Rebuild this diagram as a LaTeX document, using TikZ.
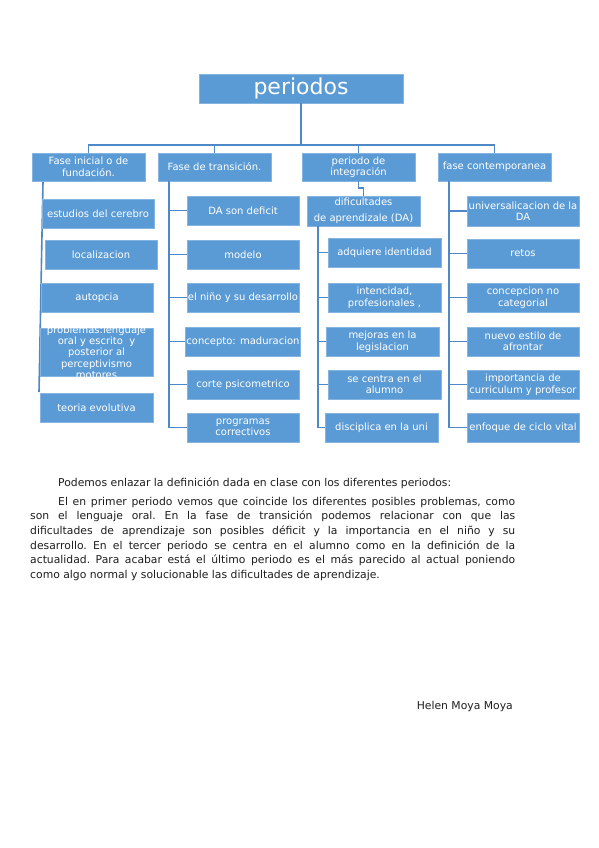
\documentclass[tikz,border=0pt]{standalone}
\usepackage{fontspec}
\setmainfont{DejaVu Sans}
\definecolor{boxblue}{RGB}{91,155,213}
\definecolor{lineblue}{RGB}{78,136,198}
\definecolor{inktext}{RGB}{30,30,30}
\tikzset{
  box/.style={fill=boxblue, draw=boxblue!75!white, line width=0.5pt, text=white,
    align=center, inner sep=1pt, minimum height=29pt, minimum width=112pt,
    font=\fontsize{10}{11.5}\selectfont},
  boxtext/.style={text=white, align=center, inner sep=0pt,
    font=\fontsize{10}{11.3}\selectfont},
  link/.style={draw=lineblue, line width=1.6pt},
  para/.style={text=inktext, text width=485pt, inner sep=0pt, align=justify,
    font=\fontsize{10.8}{14.7}\selectfont},
}
\begin{document}
\begin{tikzpicture}[x=1pt,y=-1pt]
      \useasboundingbox[fill=white] (0,0) rectangle (599,848);
      % column 1 spine sits behind its boxes
      \coordinate (s1a) at (43,182);
      \coordinate (s1b) at (39,392);
      \draw[link] (s1a) -- (s1b);
      \draw
        (301,88.5) node[box, minimum width=204pt, font=\fontsize{22}{24}\selectfont] (top){periodos}
        (88.5,167) node[box, minimum width=113pt, minimum height=28pt] (f1){Fase inicial o de\\fundación.}
        (214.5,167) node[box, minimum width=113pt, minimum height=28pt] (f2){Fase de transición.}
        (358.5,167) node[box, minimum width=113pt, minimum height=28pt] (f3){periodo de\\integración}
        (494.5,167) node[box, minimum width=113pt, minimum height=28pt] (f4){fase contemporanea};
      \draw
        (98,213.5) node[box] (c11){estudios del cerebro}
        (101,254.5) node[box] (c12){localizacion}
        (97,297.5) node[box] (c13){autopcia}
        (96.5,352) node[box, minimum width=113pt, minimum height=48pt] (c14){}
        (96.5,407.5) node[box, minimum width=113pt] (c15){teoria evolutiva};
      \begin{scope}
        \clip (c14.south west) rectangle (c14.north east);
        \node[boxtext] (t14) at (c14) {problemas:lenguaje\\oral y escrito \ y\\posterior al\\perceptivismo\\motores};
      \end{scope}
      \draw
        (243,210.5) node[box] (c21){DA son deficit}
        (243,254.5) node[box] (c22){modelo}
        (243,297.5) node[box] (c23){el niño y su desarrollo}
        (243,341.5) node[box] (c24){concepto: maduracion}
        (243,384.5) node[box] (c25){corte psicometrico}
        (243,427.5) node[box] (c26){programas\\correctivos};
      \draw
        (363.5,211) node[box, minimum width=113pt, minimum height=30pt, font=\fontsize{10}{16}\selectfont] (d3){dificultades\\de aprendizale (DA)}
        (384.5,252.5) node[box, minimum width=113pt] (c31){adquiere identidad}
        (384.5,297.5) node[box, minimum width=113pt] (c32){intencidad,\\profesionales ,}
        (382.5,341.5) node[box, minimum width=113pt] (c33){mejoras en la\\legislacion}
        (384.5,384.5) node[box, minimum width=113pt] (c34){se centra en el\\alumno}
        (381.5,427.5) node[box, minimum width=113pt] (c35){disciplica en la uni};
      \draw
        (523,211) node[box, minimum height=30pt] (c41){universalicacion de la\\DA}
        (523,253.5) node[box] (c42){retos}
        (523,297.5) node[box] (c43){concepcion no\\categorial}
        (523,341.5) node[box] (c44){nuevo estilo de\\afrontar}
        (523,384.5) node[box] (c45){importancia de\\curriculum y profesor}
        (523,427.5) node[box] (c46){enfoque de ciclo vital};
      \begin{scope}[link]
        \draw (top.south) -- ++(0,42) coordinate (bus);
        \foreach \f in {f1,f2,f3,f4}
          \draw (\f.north) |- (bus);
        \draw (f3.south) -- ++(0,7) -| (d3.north);
        \coordinate (s2) at ([xshift=11pt]f2.south west);
        \coordinate (s3) at ([xshift=11pt]d3.south west);
        \coordinate (s4) at ([xshift=11pt]f4.south west);
        \draw (s2) |- (c26.west);
        \draw (s3) |- (c35.west);
        \draw (s4) |- (c46.west);
        \foreach \c in {c21,c22,c23,c24,c25}
          \draw (s2 |- \c.west) -- (\c.west);
        \foreach \c in {c31,c32,c33,c34}
          \draw (s3 |- \c.west) -- (\c.west);
        \foreach \c in {c41,c42,c43,c44,c45}
          \draw (s4 |- \c.west) -- (\c.west);
      \end{scope}
      \node[para, anchor=base west] (texto) at (30,486) {%
        \frenchspacing\setlength{\parindent}{28pt}\setlength{\parskip}{4.3pt}%
        \indent Podemos enlazar la definición dada en clase con los diferentes periodos:\par
        El en primer periodo vemos que coincide los diferentes posibles problemas, como\linebreak
        son el lenguaje oral. En la fase de transición podemos relacionar con que las\linebreak
        dificultades de aprendizaje son posibles déficit y la importancia en el niño y su\linebreak
        desarrollo. En el tercer periodo se centra en el alumno como en la definición de la\linebreak
        actualidad. Para acabar está el último periodo es el más parecido al actual poniendo\linebreak
        como algo normal y solucionable las dificultades de aprendizaje.\par};
      \node[text=inktext, anchor=base east, inner sep=0pt, font=\fontsize{10.8}{13}\selectfont] (firma) at (513,709) {Helen Moya Moya};
    \end{tikzpicture}
\end{document}
